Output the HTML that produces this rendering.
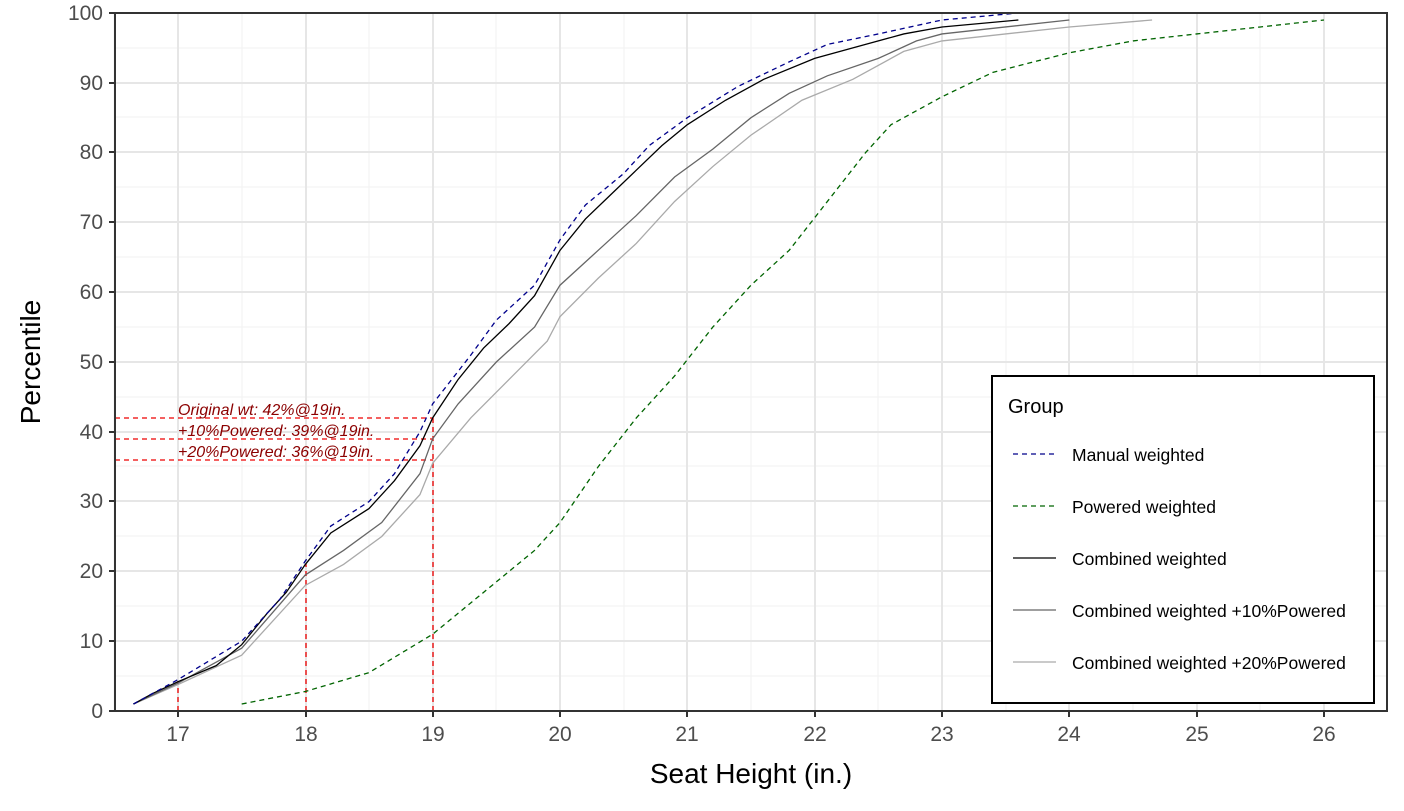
<!DOCTYPE html>
<html><head><meta charset="utf-8"><style>
body{margin:0;background:#fff}
text{font-family:"Liberation Sans",sans-serif}
</style></head><body>
<svg width="1404" height="806" xmlns="http://www.w3.org/2000/svg">
<rect width="1404" height="806" fill="#fff"/>
<g stroke="#f2f2f2" stroke-width="1">
<line x1="115" x2="1387" y1="676" y2="676"/><line x1="115" x2="1387" y1="606" y2="606"/><line x1="115" x2="1387" y1="536" y2="536"/><line x1="115" x2="1387" y1="466" y2="466"/><line x1="115" x2="1387" y1="397" y2="397"/><line x1="115" x2="1387" y1="327" y2="327"/><line x1="115" x2="1387" y1="257" y2="257"/><line x1="115" x2="1387" y1="187" y2="187"/><line x1="115" x2="1387" y1="117" y2="117"/><line x1="115" x2="1387" y1="48" y2="48"/>
<line y1="13" y2="711" x1="114" x2="114"/><line y1="13" y2="711" x1="242" x2="242"/><line y1="13" y2="711" x1="369" x2="369"/><line y1="13" y2="711" x1="496" x2="496"/><line y1="13" y2="711" x1="624" x2="624"/><line y1="13" y2="711" x1="751" x2="751"/><line y1="13" y2="711" x1="878" x2="878"/><line y1="13" y2="711" x1="1006" x2="1006"/><line y1="13" y2="711" x1="1133" x2="1133"/><line y1="13" y2="711" x1="1260" x2="1260"/>
</g>
<g stroke="#e6e6e6" stroke-width="2">
<line x1="115" x2="1387" y1="641" y2="641"/><line x1="115" x2="1387" y1="571" y2="571"/><line x1="115" x2="1387" y1="501" y2="501"/><line x1="115" x2="1387" y1="432" y2="432"/><line x1="115" x2="1387" y1="362" y2="362"/><line x1="115" x2="1387" y1="292" y2="292"/><line x1="115" x2="1387" y1="222" y2="222"/><line x1="115" x2="1387" y1="152" y2="152"/><line x1="115" x2="1387" y1="83" y2="83"/>
<line y1="13" y2="711" x1="178" x2="178"/><line y1="13" y2="711" x1="306" x2="306"/><line y1="13" y2="711" x1="433" x2="433"/><line y1="13" y2="711" x1="560" x2="560"/><line y1="13" y2="711" x1="687" x2="687"/><line y1="13" y2="711" x1="815" x2="815"/><line y1="13" y2="711" x1="942" x2="942"/><line y1="13" y2="711" x1="1069" x2="1069"/><line y1="13" y2="711" x1="1197" x2="1197"/><line y1="13" y2="711" x1="1324" x2="1324"/>
</g>
<g fill="none" stroke="#e00" stroke-width="1.3" stroke-dasharray="5,4">
<line x1="178" x2="178" y1="711" y2="681"/><line x1="306" x2="306" y1="711" y2="564"/><line x1="433" x2="433" y1="711" y2="418"/>
<line x1="115" x2="433" y1="418" y2="418"/><line x1="115" x2="433" y1="439" y2="439"/><line x1="115" x2="433" y1="460" y2="460"/>
</g>
<g font-size="16" font-style="italic" fill="#8b0000">
<text x="178" y="415">Original wt: 42%@19in.</text>
<text x="178" y="436">+10%Powered: 39%@19in.</text>
<text x="178" y="457">+20%Powered: 36%@19in.</text>
</g>
<g transform="matrix(127.33 0 0 -6.98 -1986.6 711)" fill="none">
<polyline vector-effect="non-scaling-stroke" stroke="#aaa" stroke-width="1.3" points="16.65,1 17,3.8 17.5,8 18,18 18.3,21 18.6,25 18.9,31 19,35.5 19.3,42 19.6,47.5 19.9,53 20,56.5 20.3,62 20.6,67 20.9,73 21.2,78 21.5,82.5 21.9,87.5 22.3,90.5 22.7,94.5 23,96 24,98 24.65,99"/>
<polyline vector-effect="non-scaling-stroke" stroke="#666" stroke-width="1.3" points="16.65,1 17,4 17.5,9 18,19.5 18.3,23 18.6,27 18.9,34 19,39 19.2,44 19.5,50 19.8,55 20,61 20.3,66 20.6,71 20.9,76.5 21.2,80.5 21.5,85 21.8,88.5 22.1,91 22.5,93.5 22.8,96 23,97 24,99"/>
<polyline vector-effect="non-scaling-stroke" stroke="#000" stroke-width="1.3" points="16.65,1 16.8,2.5 17,4.2 17.3,6.5 17.5,9.5 17.7,14 17.85,17 18,21 18.2,25.5 18.5,29 18.7,33 18.9,38 19,42 19.2,47.5 19.4,52 19.6,55.5 19.8,59.5 20,66 20.2,70.5 20.4,74 20.6,77.5 20.8,81 21,84 21.3,87.5 21.6,90.5 22,93.5 22.4,95.5 22.7,97 23,98 23.6,99"/>
<polyline vector-effect="non-scaling-stroke" stroke="#00008b" stroke-width="1.3" stroke-dasharray="5,4" points="16.65,1 17,4.5 17.5,10 17.8,16 18,21.5 18.2,26.5 18.5,30 18.7,34 18.9,40 19,44 19.3,51 19.5,56 19.8,61 20,67.5 20.2,72.5 20.5,77 20.7,81 21,85 21.4,89.5 21.8,93 22.1,95.5 22.5,97 23,99 23.6,100 24,100"/>
<polyline vector-effect="non-scaling-stroke" stroke="#006400" stroke-width="1.3" stroke-dasharray="5,4" points="17.5,1 18,2.8 18.5,5.5 19,11 19.4,17 19.6,20 19.8,23 20,27 20.3,35 20.6,42 20.9,48 21.2,55 21.5,61 21.8,66 22.1,73 22.4,80 22.6,84 23,88 23.4,91.5 24,94.3 24.5,96 25,97 25.5,98 26,99"/>
</g>
<rect x="115" y="13" width="1272" height="698" fill="none" stroke="#333" stroke-width="2"/>
<g stroke="#333" stroke-width="2">
<line x1="109" x2="115" y1="711" y2="711"/><line x1="109" x2="115" y1="641" y2="641"/><line x1="109" x2="115" y1="571" y2="571"/><line x1="109" x2="115" y1="501" y2="501"/><line x1="109" x2="115" y1="432" y2="432"/><line x1="109" x2="115" y1="362" y2="362"/><line x1="109" x2="115" y1="292" y2="292"/><line x1="109" x2="115" y1="222" y2="222"/><line x1="109" x2="115" y1="152" y2="152"/><line x1="109" x2="115" y1="83" y2="83"/><line x1="109" x2="115" y1="13" y2="13"/>
<line y1="711" y2="717" x1="178" x2="178"/><line y1="711" y2="717" x1="306" x2="306"/><line y1="711" y2="717" x1="433" x2="433"/><line y1="711" y2="717" x1="560" x2="560"/><line y1="711" y2="717" x1="687" x2="687"/><line y1="711" y2="717" x1="815" x2="815"/><line y1="711" y2="717" x1="942" x2="942"/><line y1="711" y2="717" x1="1069" x2="1069"/><line y1="711" y2="717" x1="1197" x2="1197"/><line y1="711" y2="717" x1="1324" x2="1324"/>
</g>
<g font-size="21" fill="#4d4d4d" text-anchor="end">
<text x="103" y="718">0</text><text x="103" y="648">10</text><text x="103" y="578">20</text><text x="103" y="508">30</text><text x="103" y="439">40</text><text x="103" y="369">50</text><text x="103" y="299">60</text><text x="103" y="229">70</text><text x="103" y="159">80</text><text x="103" y="90">90</text><text x="103" y="20">100</text>
</g>
<g font-size="21" fill="#4d4d4d" text-anchor="middle">
<text x="178" y="741">17</text><text x="306" y="741">18</text><text x="433" y="741">19</text><text x="560" y="741">20</text><text x="687" y="741">21</text><text x="815" y="741">22</text><text x="942" y="741">23</text><text x="1069" y="741">24</text><text x="1197" y="741">25</text><text x="1324" y="741">26</text>
</g>
<text x="751" y="783" font-size="28" text-anchor="middle">Seat Height (in.)</text>
<text transform="translate(40,362) rotate(-90)" font-size="28" text-anchor="middle">Percentile</text>
<rect x="992" y="376" width="382" height="327" fill="#fff" stroke="#000" stroke-width="2"/>
<text x="1008" y="413" font-size="20">Group</text>
<g stroke-width="1.3">
<line x1="1013" x2="1056" y1="454" y2="454" stroke="#00008b" stroke-dasharray="5,4"/>
<line x1="1013" x2="1056" y1="506" y2="506" stroke="#006400" stroke-dasharray="5,4"/>
<line x1="1013" x2="1056" y1="558" y2="558" stroke="#000"/>
<line x1="1013" x2="1056" y1="610" y2="610" stroke="#666"/>
<line x1="1013" x2="1056" y1="662" y2="662" stroke="#aaa"/>
</g>
<g font-size="17.5">
<text x="1072" y="461">Manual weighted</text>
<text x="1072" y="513">Powered weighted</text>
<text x="1072" y="565">Combined weighted</text>
<text x="1072" y="617">Combined weighted +10%Powered</text>
<text x="1072" y="669">Combined weighted +20%Powered</text>
</g>
</svg>
</body></html>
